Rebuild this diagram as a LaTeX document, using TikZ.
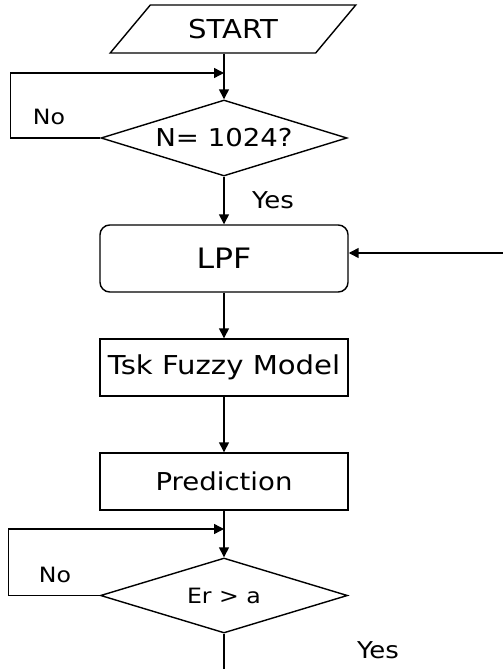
\documentclass[tikz,border=0pt]{standalone}
\usepackage{fontspec}
\setmainfont{DejaVu Sans}[FakeStretch=1.12]
\usetikzlibrary{arrows.meta,shapes.geometric}

\begin{document}
\begin{tikzpicture}[x=0.025cm,y=-0.025cm,>={Triangle[length=7pt,width=7pt]},line width=1pt,
io/.style={draw,trapezium,trapezium left angle=45,trapezium right angle=135,trapezium stretches=true,inner sep=1pt,minimum width=6.15cm,minimum height=1.2cm,font=\fontsize{18.5}{22}\selectfont},
cond/.style={draw,diamond,aspect=3.24,inner sep=0pt,minimum width=6.15cm,minimum height=1.9cm,font=\fontsize{17.5}{21}\selectfont},
proc/.style={draw,rectangle,inner sep=1pt,minimum width=6.2cm,minimum height=1.425cm,font=\fontsize{17.5}{21}\selectfont},
lbl/.style={font=\fontsize{15}{18}\selectfont}]
\useasboundingbox(0,0)rectangle(503,669);
\node(start)at(233,29)[io]{START};
\node(n1024)at(224,138)[cond]{N= 1024?};
\node(lpf)at(224,258.5)[proc,rounded corners=7pt,minimum height=1.675cm,font=\fontsize{20}{24}\selectfont]{LPF};
\node(tsk)at(224,367.5)[proc,font=\fontsize{18.5}{22}\selectfont]{Tsk Fuzzy Model};
\node(pred)at(224,481.5)[proc]{Prediction};
\node(er)at(224,595.5)[cond,aspect=3.3,minimum width=6.175cm,minimum height=1.875cm,font=\fontsize{15}{18}\selectfont]{Er > a};
\node(no1)at(49,117)[lbl]{No};
\node(yes1)at(273,200)[lbl,font=\fontsize{16.5}{20}\selectfont]{Yes};
\node(no2)at(55,575)[lbl]{No};
\node(yes2)at(378,650)[lbl,font=\fontsize{16.5}{20}\selectfont]{Yes};
\coordinate(j1)at(224,73);
\coordinate(j2)at(224,529);
\coordinate(fb)at(503,253);
\coordinate(out)at(224,669);
\draw[->](n1024.north|-start.south)--(n1024.north);
\draw[->](n1024.west)--+(-90,0)|-(j1);
\draw[->](n1024.south)--(lpf.north);
\draw[->](fb)--(fb-|lpf.east);
\draw[->](lpf)--(tsk);
\draw[->](tsk)--(pred);
\draw[->](pred.south)--(er.north);
\draw[->](er.west)--+(-91,0)|-(j2);
\draw(er.south)--(out);
\end{tikzpicture}
\end{document}
